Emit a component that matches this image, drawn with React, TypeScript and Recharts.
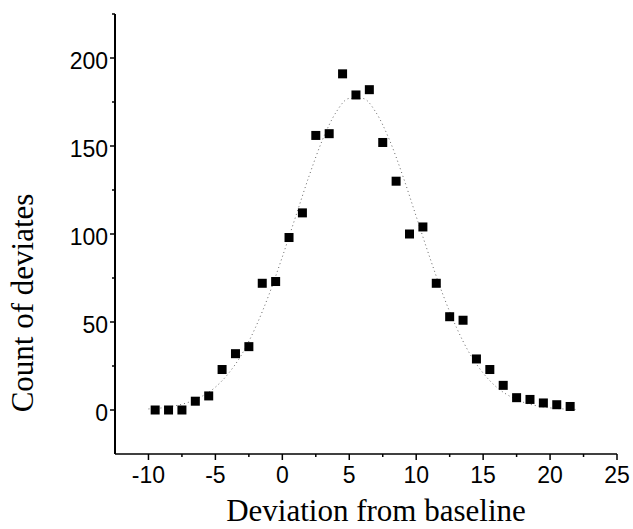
import React from "react";
import { ComposedChart, Scatter, Line, XAxis, YAxis } from "recharts";

// Observed counts (x = deviation bin centre, y = count)
const binCentres = [
  -9.5, -8.5, -7.5, -6.5, -5.5, -4.5, -3.5, -2.5, -1.5, -0.5, 0.5, 1.5, 2.5, 3.5, 4.5, 5.5,
  6.5, 7.5, 8.5, 9.5, 10.5, 11.5, 12.5, 13.5, 14.5, 15.5, 16.5, 17.5, 18.5, 19.5, 20.5, 21.5,
];
const counts = [
  0, 0, 0, 5, 8, 23, 32, 36, 72, 73, 98, 112, 156, 157, 191, 179,
  182, 152, 130, 100, 104, 72, 53, 51, 29, 23, 14, 7, 6, 4, 3, 2,
];

// Dotted fitted curve, values at integer x
const curveX = [
  -10, -9, -8, -7, -6, -5, -4, -3, -2, -1, 0, 1, 2, 3, 4, 5, 6, 7, 8, 9, 10, 11, 12, 13, 14,
  15, 16, 17, 18, 19, 20, 21, 22,
];
const curveY = [
  0.6, 1.2, 2.4, 4.4, 7.8, 13, 21, 32, 47, 65.5, 87, 110, 133, 153.5, 169, 177, 177, 169,
  153.5, 133, 110, 87, 65.5, 47, 32, 21, 13, 7.8, 4.4, 2.4, 1.2, 0.6, 0.3,
];

const xTicks = [-10, -7.5, -5, -2.5, 0, 2.5, 5, 7.5, 10, 12.5, 15, 17.5, 20, 22.5, 25];
const xMajor = [-10, -5, 0, 5, 10, 15, 20, 25];
const yTicks = [0, 25, 50, 75, 100, 125, 150, 175, 200, 225];
const yMajor = [0, 50, 100, 150, 200];

const xTitle = "Deviation from baseline";
const yTitle = "Count of deviates";

const points = binCentres.map((x, i) => ({ x, y: counts[i] }));
const curve = curveX.map((x, i) => ({ x, fit: curveY[i] }));

const tickFont = "'Liberation Sans', Arial, Helvetica, sans-serif";
const titleFont = "'Liberation Serif', 'Times New Roman', Times, serif";

const XTick = (props: any) => {
  const { x, y, payload } = props;
  const major = xMajor.includes(payload.value);
  return (
    <g>
      <line x1={x} y1={y} x2={x} y2={y + (major ? 6 : 3)} stroke="#000" strokeWidth={1.5} />
      {major && (
        <text x={x} y={y + 29} textAnchor="middle" fontFamily={tickFont} fontSize={23} fill="#000">
          {String(payload.value)}
        </text>
      )}
    </g>
  );
};

const YTick = (props: any) => {
  const { x, y, payload } = props;
  const major = yMajor.includes(payload.value);
  return (
    <g>
      <line x1={x - (major ? 5 : 3)} y1={y} x2={x} y2={y} stroke="#000" strokeWidth={1.5} />
      {major && (
        <text x={x - 7} y={y + 11} textAnchor="end" fontFamily={tickFont} fontSize={23} fill="#000">
          {String(payload.value)}
        </text>
      )}
    </g>
  );
};

const SquareMark = (props: any) => {
  const { cx, cy } = props;
  if (cx == null || cy == null) return null;
  return <rect x={cx - 4.5} y={cy - 4.5} width={9} height={9} fill="#000" />;
};

export default function App() {
  return (
    <div style={{ position: "absolute", left: 0, top: 0, width: 633, height: 529, background: "#fff" }}>
      <ComposedChart width={633} height={529} margin={{ top: 14, right: 16, bottom: 15, left: 15 }}>
        <XAxis
          type="number"
          dataKey="x"
          domain={[-12.5, 25]}
          ticks={xTicks}
          interval={0}
          allowDataOverflow
          tick={<XTick />}
          tickSize={0}
          tickMargin={0}
          tickLine={false}
          axisLine={{ stroke: "#000", strokeWidth: 1.5 }}
          height={60}
        />
        <YAxis
          type="number"
          domain={[-25, 225]}
          ticks={yTicks}
          interval={0}
          allowDataOverflow
          tick={<YTick />}
          tickSize={0}
          tickMargin={0}
          tickLine={false}
          axisLine={{ stroke: "#000", strokeWidth: 2 }}
          width={100}
        />
        <Line
          data={curve}
          dataKey="fit"
          type="monotone"
          stroke="#666"
          strokeWidth={1}
          strokeDasharray="1 3"
          dot={false}
          activeDot={false}
          isAnimationActive={false}
        />
        <Scatter data={points} dataKey="y" shape={<SquareMark />} isAnimationActive={false} />
        <text x={376} y={521} textAnchor="middle" fontFamily={titleFont} fontSize={31} fill="#000">
          {xTitle}
        </text>
        <text
          x={33}
          y={303}
          textAnchor="middle"
          transform="rotate(-90 33 303)"
          fontFamily={titleFont}
          fontSize={31}
          fill="#000"
        >
          {yTitle}
        </text>
      </ComposedChart>
    </div>
  );
}
